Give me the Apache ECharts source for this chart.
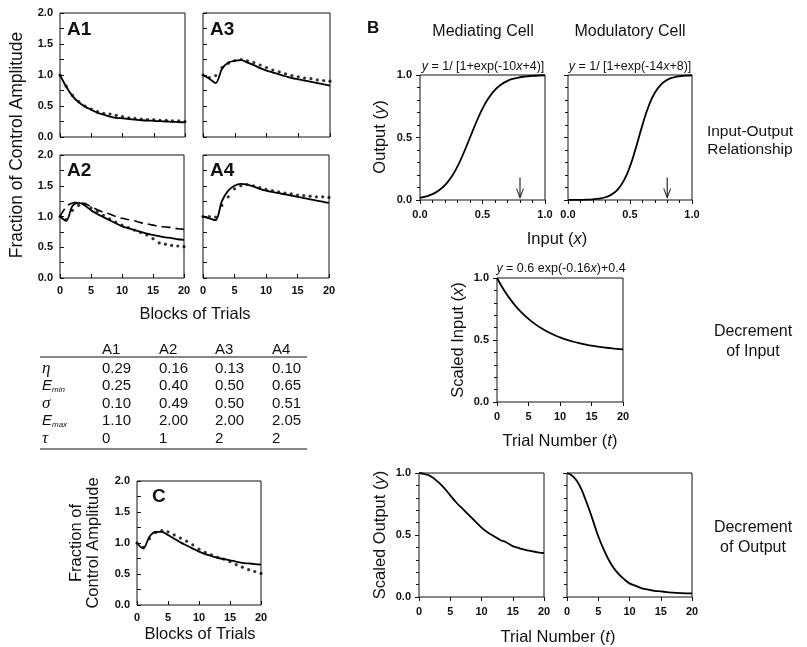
<!DOCTYPE html>
<html><head><meta charset="utf-8">
<script src="https://cdn.jsdelivr.net/npm/echarts@6/dist/echarts.min.js"></script>
<style>html,body{margin:0;padding:0;background:#fff}#c{width:807px;height:647px}</style>
</head><body><div id="c"></div>
<script>
// ---------- DATA ----------
const blocks = [0,1,2,3,4,5,6,7,8,9,10,11,12,13,14,15,16,17,18,19,20];
const a1Model = [1.0,0.81,0.66,0.56,0.49,0.44,0.39,0.36,0.33,0.31,0.30,0.29,0.28,0.27,0.265,0.26,0.255,0.25,0.245,0.24,0.235];
const a1Data  = [1.0,0.82,0.67,0.57,0.50,0.45,0.41,0.38,0.37,0.35,0.33,0.31,0.30,0.29,0.28,0.28,0.27,0.27,0.26,0.26,0.25];
const a3Model = [1.0,0.94,0.87,1.10,1.20,1.23,1.24,1.20,1.16,1.11,1.07,1.04,1.01,0.98,0.95,0.93,0.91,0.89,0.87,0.85,0.83];
const a3Data  = [1.0,0.96,0.99,1.12,1.19,1.23,1.25,1.23,1.20,1.16,1.12,1.08,1.05,1.02,0.99,0.97,0.95,0.94,0.92,0.91,0.90];
const a2Model = [1.0,0.93,1.17,1.22,1.18,1.10,1.04,0.99,0.94,0.89,0.84,0.81,0.78,0.75,0.72,0.70,0.68,0.66,0.65,0.63,0.62];
const a2Alt   = [1.0,1.16,1.22,1.23,1.21,1.16,1.11,1.07,1.04,1.00,0.97,0.95,0.93,0.90,0.88,0.86,0.84,0.83,0.82,0.80,0.79];
const a2Data  = [1.0,0.95,1.10,1.18,1.20,1.14,1.08,1.02,0.96,0.91,0.86,0.82,0.78,0.74,0.70,0.64,0.57,0.55,0.53,0.52,0.51];
const a4Model = [1.0,0.97,0.94,1.25,1.42,1.50,1.53,1.52,1.49,1.45,1.42,1.40,1.38,1.36,1.34,1.32,1.30,1.28,1.26,1.24,1.22];
const a4Data  = [1.0,1.0,0.99,1.18,1.32,1.45,1.50,1.52,1.50,1.47,1.44,1.42,1.40,1.38,1.37,1.35,1.34,1.33,1.32,1.32,1.31];
const cModel  = [1.0,0.91,1.10,1.18,1.18,1.13,1.07,1.01,0.96,0.91,0.86,0.82,0.79,0.76,0.74,0.72,0.70,0.68,0.67,0.66,0.65];
const cData   = [1.0,0.93,1.07,1.17,1.20,1.18,1.13,1.08,1.03,0.97,0.90,0.85,0.81,0.77,0.74,0.70,0.65,0.61,0.57,0.54,0.51];

const inputX  = [0,0.05,0.1,0.15,0.2,0.25,0.3,0.35,0.4,0.45,0.5,0.55,0.6,0.65,0.7,0.75,0.8,0.85,0.9,0.95,1.0];
const medOut  = [0.018,0.029,0.047,0.076,0.119,0.182,0.269,0.378,0.5,0.622,0.731,0.818,0.881,0.924,0.953,0.971,0.982,0.989,0.993,0.996,0.998];
const modOut  = [0.0003,0.0007,0.0014,0.0027,0.0055,0.011,0.022,0.043,0.083,0.155,0.269,0.426,0.599,0.750,0.858,0.924,0.961,0.980,0.990,0.995,0.998];
const arrowX = 0.8, arrowTop = 0.18, arrowTip = 0.02;

const trials = [0,1,2,3,4,5,6,7,8,9,10,11,12,13,14,15,16,17,18,19,20];
const scaledInput  = [1.0,0.911,0.836,0.771,0.716,0.670,0.630,0.596,0.567,0.542,0.521,0.503,0.488,0.475,0.464,0.454,0.446,0.440,0.434,0.429,0.424];
const medScaledOut = [1.0,0.99,0.97,0.93,0.88,0.82,0.76,0.71,0.66,0.61,0.56,0.52,0.49,0.46,0.44,0.41,0.395,0.38,0.37,0.36,0.355];
const modScaledOut = [1.0,0.97,0.90,0.78,0.64,0.49,0.37,0.27,0.20,0.15,0.11,0.09,0.07,0.06,0.05,0.045,0.04,0.035,0.032,0.03,0.03];

const tableCols = ['A1','A2','A3','A4'];
const tableRows = [
  ['0.29','0.16','0.13','0.10'],
  ['0.25','0.40','0.50','0.65'],
  ['0.10','0.49','0.50','0.51'],
  ['1.10','2.00','2.00','2.05'],
  ['0','1','2','2']
];

// ---------- BUILD ----------
const FONT = "'Liberation Sans', Arial, sans-serif";
const grids=[], xAxes=[], yAxes=[], series=[], graphics=[];
const zip = (xs, ys) => xs.map((x,i)=>[x, ys[i]]);

function addPanel(box, xa, ya){
  const i = grids.length;
  grids.push({left:box[0], top:box[1], width:box[2], height:box[3], show:true, borderColor:'#111', borderWidth:1, backgroundColor:'rgba(0,0,0,0)'});
  xAxes.push(Object.assign({gridIndex:i}, xa));
  yAxes.push(Object.assign({gridIndex:i}, ya));
  return i;
}
const lbl = (show, margin) => ({show, margin, fontSize:11, color:'#111', fontFamily:FONT, fontWeight:'bold'});
function aX(show){ return {type:'value',min:0,max:20,interval:5,axisLine:{show:false},
  axisTick:{inside:true,length:4,lineStyle:{color:'#111'}},axisLabel:Object.assign(lbl(show,7),{formatter:v=>String(v)}),splitLine:{show:false}}; }
function aY(show){ return {type:'value',min:0,max:2,interval:0.5,axisLine:{show:false},
  axisTick:{inside:true,length:4,lineStyle:{color:'#111'}},minorTick:{show:true,splitNumber:2,length:4,lineStyle:{color:'#111'}},
  axisLabel:Object.assign(lbl(show,7),{formatter:v=>v.toFixed(1)}),splitLine:{show:false},minorSplitLine:{show:false}}; }
function bX(max, interval, minorN, fmt){ return {type:'value',min:0,max:max,interval:interval,axisLine:{show:false},
  axisTick:{inside:false,length:4,lineStyle:{color:'#111'}},minorTick:{show:minorN>0,splitNumber:minorN||1,length:3,lineStyle:{color:'#111'}},
  axisLabel:Object.assign(lbl(true,9),{formatter:fmt}),splitLine:{show:false},minorSplitLine:{show:false}}; }
function bY(show){ return {type:'value',min:0,max:1,interval:0.5,axisLine:{show:false},
  axisTick:{inside:false,length:4,lineStyle:{color:'#111'}},minorTick:{show:true,splitNumber:5,length:3,lineStyle:{color:'#111'}},
  axisLabel:Object.assign(lbl(show,8),{formatter:v=>v.toFixed(1)}),splitLine:{show:false},minorSplitLine:{show:false}}; }

function solid(i, xs, ys, extra){ series.push(Object.assign({type:'line',xAxisIndex:i,yAxisIndex:i,data:zip(xs,ys),showSymbol:false,smooth:0.3,
  lineStyle:{color:'#000',width:1.8},silent:true,animation:false,z:3}, extra||{})); }
function dots(i, xs, ys){ series.push({type:'scatter',xAxisIndex:i,yAxisIndex:i,data:zip(xs,ys),symbol:'circle',symbolSize:3.2,
  itemStyle:{color:'#000'},silent:true,animation:false,z:4}); }
function arrow(i){
  series.push({type:'line',xAxisIndex:i,yAxisIndex:i,data:[[arrowX,arrowTop],[arrowX,arrowTip]],showSymbol:false,
    lineStyle:{color:'#000',width:1},silent:true,animation:false,z:5});
  series.push({type:'scatter',xAxisIndex:i,yAxisIndex:i,data:[[arrowX,arrowTip]],symbol:'path://M0,0 L5,10 L10,0 L5,10 Z',
    symbolSize:[7,9],symbolOffset:[0,-4.5],symbolKeepAspect:false,
    itemStyle:{color:'rgba(0,0,0,0)',borderColor:'#000',borderWidth:1.2},silent:true,animation:false,z:5});
}

// A panels
const pA1 = addPanel([60,13,125,124], aX(false), aY(true));
const pA3 = addPanel([203,13,127,124], aX(false), aY(false));
const pA2 = addPanel([60,155,124,123], aX(true), aY(true));
const pA4 = addPanel([203,155,126,123], aX(true), aY(false));
const pC  = addPanel([137,481,124,124], aX(true), aY(true));
solid(pA1, blocks, a1Model); dots(pA1, blocks, a1Data);
solid(pA3, blocks, a3Model); dots(pA3, blocks, a3Data);
solid(pA2, blocks, a2Model); dots(pA2, blocks, a2Data);
solid(pA2, blocks, a2Alt, {lineStyle:{color:'#000',width:1.6,type:[9,5]}});
solid(pA4, blocks, a4Model); dots(pA4, blocks, a4Data);
solid(pC, blocks, cModel); dots(pC, blocks, cData);

// B panels
const f1 = v => v.toFixed(1), f0 = v => String(v);
const pB1 = addPanel([420,75,125,125], bX(1,0.5,5,f1), bY(true));
const pB2 = addPanel([568,75,124,125], bX(1,0.5,5,f1), bY(false));
const pB3 = addPanel([497,278,126,124], bX(20,5,0,f0), bY(true));
const pB4 = addPanel([419,473,125,124], bX(20,5,0,f0), bY(true));
const pB5 = addPanel([567,473,125,124], bX(20,5,0,f0), bY(false));
solid(pB1, inputX, medOut, {smooth:true}); arrow(pB1);
solid(pB2, inputX, modOut, {smooth:true}); arrow(pB2);
solid(pB3, trials, scaledInput, {smooth:true});
solid(pB4, trials, medScaledOut, {smooth:true});
solid(pB5, trials, modScaledOut, {smooth:true});

// ---------- TEXT ----------
function txt(x, y, text, size, opts){
  opts = opts || {};
  graphics.push({type:'text', x, y, rotation: opts.rot || 0, silent:true, z:10,
    style:Object.assign({text, fill:'#111', fontSize:size, fontFamily:opts.family||FONT, fontWeight:opts.weight||'normal',
      fontStyle:opts.style||'normal', align:opts.align||'center', verticalAlign:'middle'}, opts.rich?{rich:opts.rich}:{})});
}
const L = 16.5;
// A labels
txt(67,30,'A1',19,{weight:'bold',align:'left'});
txt(210,30,'A3',19,{weight:'bold',align:'left'});
txt(67,171,'A2',19,{weight:'bold',align:'left'});
txt(210,171,'A4',19,{weight:'bold',align:'left'});
txt(152,497,'C',19,{weight:'bold',align:'left'});
txt(17,145,'Fraction of Control Amplitude',17.5,{rot:Math.PI/2});
txt(195,314,'Blocks of Trials',L);
txt(76,543,'Fraction of',L,{rot:Math.PI/2});
txt(93,543,'Control Amplitude',L,{rot:Math.PI/2});
txt(200,634,'Blocks of Trials',L);

// Table
const colX = [102,159,215,272];
const rowY = [369,386,404,421,439];
tableCols.forEach((c,j)=>txt(colX[j],350,c,15,{align:'left'}));
tableRows.forEach((r,i)=>r.forEach((v,j)=>txt(colX[j],rowY[i],v,15,{align:'left'})));
const SERIF = "'Liberation Serif', 'DejaVu Serif', serif";
txt(42,rowY[0],'η',17,{align:'left',style:'italic',family:SERIF});
txt(42,rowY[1],'E',15,{align:'left',style:'italic'});
txt(52,rowY[1]+4,'min',8,{align:'left',style:'italic'});
txt(42,rowY[2],'σ',17,{align:'left',style:'italic',family:SERIF});
txt(42,rowY[3],'E',15,{align:'left',style:'italic'});
txt(52,rowY[3]+4,'max',8,{align:'left',style:'italic'});
txt(42,rowY[4],'τ',17,{align:'left',style:'italic',family:SERIF});
graphics.push({type:'line',silent:true,shape:{x1:40,y1:357,x2:307,y2:357},style:{stroke:'#111',lineWidth:1.2}});
graphics.push({type:'line',silent:true,shape:{x1:40,y1:449,x2:307,y2:449},style:{stroke:'#111',lineWidth:1.2}});

// B texts
txt(367,28,'B',17,{weight:'bold',align:'left'});
txt(483,32,'Mediating Cell',16);
txt(630,32,'Modulatory Cell',16);
const it = {i:{fontStyle:'italic',fontSize:12.5,fontFamily:FONT,fill:'#111'}};
txt(483,67,'{i|y} = 1/ [1+exp(-10{i|x}+4)]',12.5,{rich:it});
txt(630,67,'{i|y} = 1/ [1+exp(-14{i|x}+8)]',12.5,{rich:it});
const itL = {i:{fontStyle:'italic',fontSize:L,fontFamily:FONT,fill:'#111'}};
txt(380,137,'Output ({i|y})',L,{rot:Math.PI/2,rich:itL});
txt(557,239,'Input ({i|x})',L,{rich:itL});
txt(750,132,'Input-Output',15.5);
txt(750,150,'Relationship',15.5);
txt(561,269,'{i|y} = 0.6 exp(-0.16{i|x})+0.4',12.5,{rich:it});
txt(458,340,'Scaled Input ({i|x})',L,{rot:Math.PI/2,rich:itL});
txt(560,441,'Trial Number ({i|t})',L,{rich:itL});
txt(753,332,'Decrement',16);
txt(753,352,'of Input',16);
txt(380,535,'Scaled Output ({i|y})',L,{rot:Math.PI/2,rich:itL});
txt(558,637,'Trial Number ({i|t})',L,{rich:itL});
txt(753,528,'Decrement',16);
txt(753,548,'of Output',16);

const chart = echarts.init(document.getElementById('c'), null, {renderer:'canvas'});
chart.setOption({animation:false, backgroundColor:'#fff', grid:grids, xAxis:xAxes, yAxis:yAxes, series, graphic:graphics});
</script></body></html>
